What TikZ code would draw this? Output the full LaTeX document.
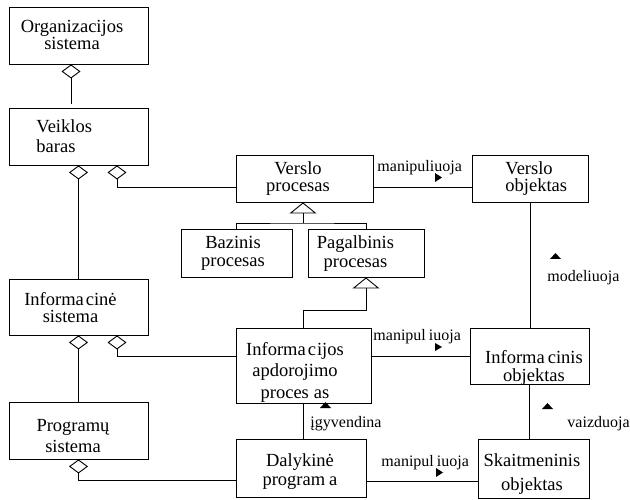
\documentclass[tikz,border=0pt]{standalone}
\usepackage{fontspec}
\setmainfont{Liberation Serif}
\usetikzlibrary{arrows.meta}
\begin{document}
\begin{tikzpicture}[x=1pt,y=-1pt,line width=0.9pt,
  umlbox/.style={draw,inner sep=0pt},
  btxt/.style={inner sep=0pt,align=center,font=\fontsize{18.5}{18}\selectfont},
  lbl/.style={inner sep=0pt,anchor=base west,font=\fontsize{16}{18}\selectfont},
  agg/.style={{Diamond[open,length=14pt,width=19pt]}-},
  gen/.style={-{Triangle[open,length=11pt,width=27pt]}},
  dirtip/.style={fill=black}]
\useasboundingbox (0,0) rectangle (630,500);

% boxes
\node[umlbox,minimum width=139pt,minimum height=57pt] (org)  at (78.5,35.5) {};
\node[umlbox,minimum width=139pt,minimum height=57pt] (veik) at (78.5,136.5) {};
\node[umlbox,minimum width=139pt,minimum height=56pt] (infs) at (78.5,307) {};
\node[umlbox,minimum width=139pt,minimum height=57pt] (prog) at (78.5,430.5) {};
\node[umlbox,minimum width=137pt,minimum height=47pt] (vp)   at (304.5,178.5) {};
\node[umlbox,minimum width=111pt,minimum height=48pt] (baz)  at (236.5,253) {};
\node[umlbox,minimum width=116pt,minimum height=48pt] (pag)  at (366,253) {};
\node[umlbox,minimum width=116pt,minimum height=47pt] (vo)   at (530,178.5) {};
\node[umlbox,minimum width=135pt,minimum height=75pt] (iap)  at (303.5,365.5) {};
\node[umlbox,minimum width=130pt,minimum height=58pt] (dal)  at (301,468) {};
\node[umlbox,minimum width=119pt,minimum height=56pt] (io)   at (529.5,356) {};
\node[umlbox,minimum width=111pt,minimum height=59pt] (sk)   at (533.5,468.5) {};

% box texts
\node[btxt] (orgt) at (72,35.2) {Organizacijos\\[-1pt]sistema};
\node[btxt,align=left,anchor=west] (veikt) at (36,135.7) {Veiklos\\[2pt]baras};
\node[btxt] (vpt) at (298,178.7) {Verslo\\[-0.5pt]procesas};
\node[btxt] (bazt) at (233,253.6) {Bazinis\\[0.4pt]procesas};
\node[btxt] (pagt) at (355.5,253.6) {Pagalbinis\\[0.4pt]procesas};
\node[btxt,align=left,anchor=west] (vot) at (505,178.5) {Verslo\\[-1pt]objektas};
\node[btxt] (infst) at (70.5,307.2) {Informa\kern2pt cinė\\[-1pt]sistema};
\node[btxt] (progt) at (73,436.1) {Programų\\[3pt]sistema};
\node[btxt] (iapt) at (295,372.4) {Informa\kern2pt c\kern1pt ijos\\[3.7pt]apdorojimo\\[3.7pt]proces\kern5pt as};
\node[btxt] (dalt) at (300,471.6) {Dalykinė\\[0.3pt]program\kern4pt a};
\node[btxt] (iot) at (534,368.2) {Informa\kern3pt cinis\\[0.4pt]objektas};
\node[btxt] (skt) at (532,474) {Skaitmeninis\\[5.3pt]objektas};

% aggregation connectors
\draw[agg,shorten >=4pt] ([xshift=-7.5pt]org.south) -- ([xshift=-7.5pt]veik.north);
\draw[agg] (veik.south) -- (infs.north);
\draw[agg] ([xshift=38.5pt]veik.south) |- ([yshift=-8.5pt]vp.west);
\draw[agg] (infs.south) -- (prog.north);
\draw[agg] ([xshift=38.5pt]infs.south) |- ([yshift=9.5pt]iap.west);
\draw[agg] (prog.south) |- ([yshift=-12pt]dal.west);

% generalisation
\coordinate (gj) at (303,223);
\coordinate (pj) at (366,310);
\draw (baz.north) |- (gj) -| (pag.north);
\draw[gen] (gj) -- (gj |- vp.south);
\draw[gen] (iap.north) |- (pj) -- (pag.south);

% associations
\draw ([yshift=-8.5pt]vp.east) -- ([yshift=-8.5pt]vo.west);
\draw (iap.east |- io.west) -- (io.west);
\draw ([yshift=-13pt]dal.east) -- ([yshift=-13pt]dal.east -| sk.west);
\draw (iap.south) -- (iap.south |- dal.north);
\draw (vo.south) -- (vo.south |- io.north);
\draw (io.south) -- (io.south |- sk.north);

% labels
\node[lbl] (l1) at (377,171.5) {manipuliuoja};
\node[lbl] (l2) at (373,340) {manipul\kern3pt iuoja};
\node[lbl] (l3) at (381,466) {manipul\kern3pt iuoja};
\node[lbl] (l4) at (547,281.5) {modeliuoja};
\node[lbl] (l5) at (567,427) {vaizduoja};
\node[lbl] (l6) at (310,427.5) {įgyvendina};

% direction marks
\fill[dirtip] (435,173) -- (442,177.5) -- (435,182) -- cycle;
\fill[dirtip] (435,343) -- (442,347) -- (435,351) -- cycle;
\fill[dirtip] (436,468) -- (443,472.5) -- (436,477) -- cycle;
\fill[dirtip] (550,259) -- (555.5,253) -- (561,259) -- cycle;
\fill[dirtip] (542,409) -- (547.5,403) -- (553,409) -- cycle;
\fill[dirtip] (320,408) -- (325.5,402) -- (331,408) -- cycle;
\end{tikzpicture}
\end{document}
